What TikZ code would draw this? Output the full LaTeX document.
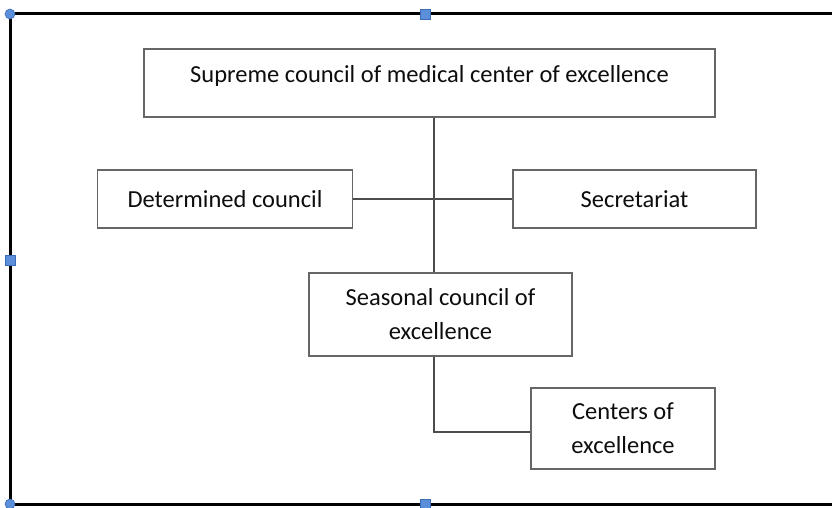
\documentclass[tikz,border=0pt]{standalone}
\usepackage{fontspec}
\setmainfont{Carlito}
\usetikzlibrary{positioning}

\definecolor{handleblue}{HTML}{5B8FD9}
\definecolor{handleedge}{HTML}{3A6DB5}

\tikzset{
  orgbox/.style={draw=black!60, line width=1.6pt, fill=white, text=black!95,
    font=\fontsize{24.5}{34}\selectfont, align=center, inner sep=0pt},
  link/.style={draw=black!70, line width=1.5pt},
  handle/.style={fill=handleblue, draw=handleedge, line width=0.6pt}
}

\begin{document}
\begin{tikzpicture}[x=1pt,y=-1pt]
  \useasboundingbox (0,0) rectangle (832,508);
  \clip (0,0) rectangle (832,508);

  % outer frame
  \draw[line width=3pt] (850,14) -- (10,14) -- (10,504) -- (850,504);

  % boxes
  \node[orgbox, minimum width=571pt, minimum height=68pt, text height=17pt, text depth=17pt]
    (supreme) at (429.5,83) {Supreme council of medical center of excellence};
  \node[orgbox, minimum width=255pt, minimum height=58pt]
    (determined) at (225,199) {Determined council};
  \node[orgbox, minimum width=243pt, minimum height=58pt]
    (secretariat) at (634.5,199) {Secretariat};
  \node[orgbox, minimum width=263pt, minimum height=83pt]
    (seasonal) at (440.5,314.5) {Seasonal council of\\excellence};
  \node[orgbox, minimum width=184pt, minimum height=81pt]
    (centers) at (623,428.5) {Centers of\\excellence};

  \coordinate (hub) at (434,199);

  % connectors
  \draw[link] (determined.east) -- (secretariat.west);
  \draw[link] (supreme.south -| hub) -- (seasonal.north -| hub);
  \draw[link] (seasonal.south -| hub) |- ([yshift=-3.5pt]centers.west);

  % selection handles
  \filldraw[handle] (10,14) circle (5);
  \filldraw[handle] (10,504) circle (5);
  \filldraw[handle] (420,9) rectangle (430,19);
  \filldraw[handle] (5,255) rectangle (15,265);
  \filldraw[handle] (420,499) rectangle (430,509);
\end{tikzpicture}
\end{document}
